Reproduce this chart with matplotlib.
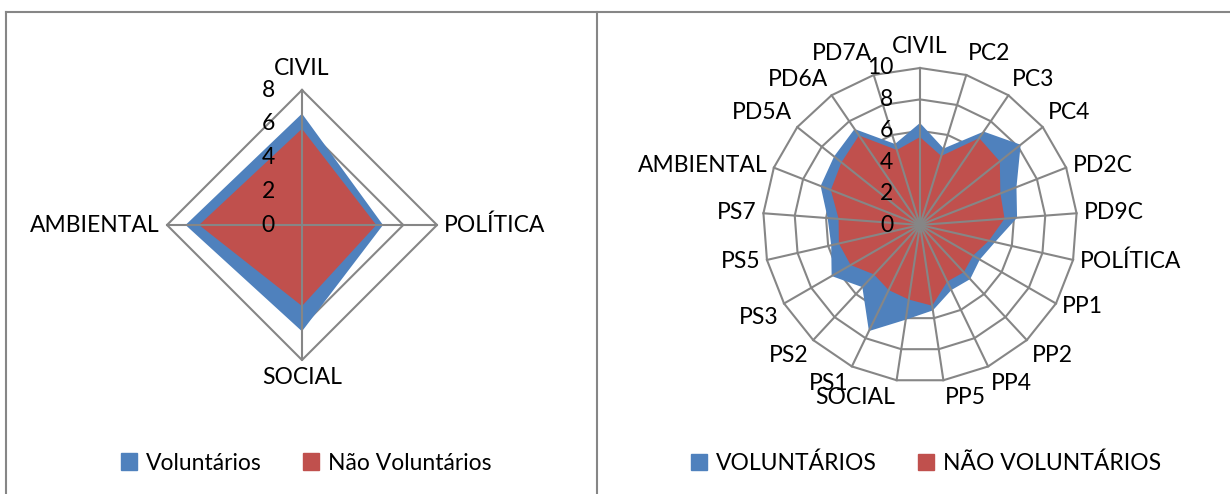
import numpy as np
import matplotlib
matplotlib.use("Agg")
import matplotlib.pyplot as plt
from matplotlib.patches import Patch
from matplotlib.lines import Line2D

plt.rcParams['font.family'] = ['Lato', 'DejaVu Sans']

# painel esquerdo
cats_l = ['CIVIL', 'POLÍTICA', 'SOCIAL', 'AMBIENTAL']
vol_l = [6.6, 4.8, 6.3, 6.9]
nvol_l = [5.7, 4.4, 4.8, 6.1]
ticks_l = [0, 2, 4, 6, 8]

# painel direito
cats_r = ['CIVIL', 'PC2', 'PC3', 'PC4', 'PD2C', 'PD9C', 'POLÍTICA', 'PP1', 'PP2',
          'PP4', 'PP5', 'SOCIAL', 'PS1', 'PS2', 'PS3', 'PS5', 'PS7', 'AMBIENTAL',
          'PD5A', 'PD6A', 'PD7A']
vol_r = [6.5, 5.1, 7.2, 8.2, 6.6, 6.2, 4.9, 4.4, 4.7, 4.6, 5.5, 6.1, 7.5, 5.4,
         6.5, 5.8, 5.9, 6.8, 7.0, 7.4, 5.4]
nvol_r = [5.6, 4.6, 6.7, 6.5, 5.5, 5.4, 4.5, 3.9, 4.1, 4.0, 5.2, 4.8, 4.6, 4.3,
          5.1, 5.3, 5.2, 6.1, 6.4, 6.9, 5.0]
ticks_r = [0, 2, 4, 6, 8, 10]

BLUE = '#4F81BD'
RED = '#C0504D'
GRID = '#868686'
FS = 16.5


def radar(ax, cats, vol, nvol, ticks):
    n = len(cats)
    ang = np.arange(n) * 2 * np.pi / n
    rmax = ticks[-1]
    ax.set_theta_zero_location('N')
    ax.set_theta_direction(-1)
    ax.set_ylim(0, rmax)
    ax.axis('off')

    closed = np.append(ang, ang[0])
    # aneis da grelha (ficam por baixo das areas)
    for t in ticks[1:]:
        ax.plot(closed, [t] * (n + 1), color=GRID, lw=1.5, zorder=1, clip_on=False)

    ax.fill(closed, vol + vol[:1], color=BLUE, zorder=2, lw=0)
    ax.fill(closed, nvol + nvol[:1], color=RED, zorder=3, lw=0)

    # raios por cima
    for a in ang:
        ax.plot([a, a], [0, rmax], color=GRID, lw=1.5, zorder=4, clip_on=False)

    for t in ticks:
        ax.annotate(str(t), xy=(0, t), xytext=(-27, 0), textcoords='offset pixels',
                    ha='right', va='center', fontsize=FS, zorder=5)

    for a, c in zip(ang, cats):
        s, co = np.sin(a), np.cos(a)
        ha = 'left' if s > 0.05 else ('right' if s < -0.05 else 'center')
        va = 'bottom' if co > 0.5 else ('top' if co < -0.5 else 'center')
        dy = 5 * co + (3 if co > 0.95 else 0)
        ax.annotate(c, xy=(a, rmax), xytext=(5 * s, dy), textcoords='offset points',
                    ha=ha, va=va, fontsize=FS, annotation_clip=False)


fig = plt.figure(figsize=(12.3, 4.94), dpi=100)
W, H = 1230, 494

ax1 = fig.add_axes([(302 - 135) / W, (H - 225 - 135) / H, 270 / W, 270 / H], projection='polar')
radar(ax1, cats_l, vol_l, nvol_l, ticks_l)

ax2 = fig.add_axes([(920 - 157) / W, (H - 225 - 157) / H, 314 / W, 314 / H], projection='polar')
radar(ax2, cats_r, vol_r, nvol_r, ticks_r)

# legendas
fig.legend([Patch(color=BLUE), Patch(color=RED)], ['Voluntários', 'Não Voluntários'],
           loc='center', bbox_to_anchor=(306 / W, 1 - 463 / H), ncol=2, frameon=False,
           handlelength=0.7, handleheight=0.7, handletextpad=0.4, columnspacing=1.8,
           fontsize=FS)
fig.legend([Patch(color=BLUE), Patch(color=RED)], ['VOLUNTÁRIOS', 'NÃO VOLUNTÁRIOS'],
           loc='center', bbox_to_anchor=(926 / W, 1 - 463 / H), ncol=2, frameon=False,
           handlelength=0.7, handleheight=0.7, handletextpad=0.4, columnspacing=1.8,
           fontsize=FS)

# moldura
top = 1 - 12 / H
fig.add_artist(Line2D([6 / W, 1], [top, top], color=GRID, lw=1.5))
fig.add_artist(Line2D([6 / W, 6 / W], [0, top], color=GRID, lw=1.5))
fig.add_artist(Line2D([596.5 / W, 596.5 / W], [0, top], color=GRID, lw=1.5))

fig.savefig('out.png', dpi=100)
